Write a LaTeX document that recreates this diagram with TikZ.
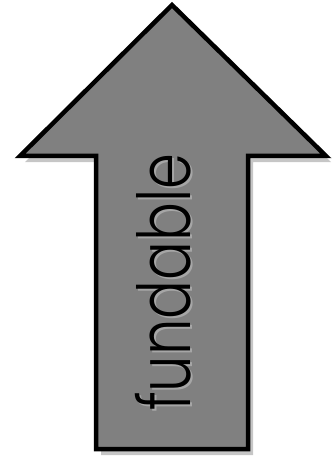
\documentclass[tikz,border=0pt]{standalone}
\usepackage{fontspec}
\setmainfont{Poppins Light}
\begin{document}
\begin{tikzpicture}[x=1pt,y=-1pt,
  arrowshape/.style={draw=black,line width=4.5pt,fill=gray,line join=miter},
  shadowshape/.style={fill=gray!45},
  labeltext/.style={font=\fontsize{73}{73}\selectfont,inner sep=0pt,rotate=90,anchor=base}]
\useasboundingbox (0,0) rectangle (332,457);
\fill[shadowshape,xshift=5pt,yshift=-6pt] (172,5) -- (326,156) -- (248,156) -- (248,449) -- (96,449) -- (96,156) -- (20,156) -- cycle;
\draw[arrowshape] (172,5) -- (326,156) -- (248,156) -- (248,449) -- (96,449) -- (96,156) -- (20,156) -- cycle;
\node[labeltext,text=gray!70] (s) at (192,284) {\scalebox{0.79}[1]{fundable}};
\node[labeltext] (t) at (190,282) {\scalebox{0.79}[1]{fundable}};
\end{tikzpicture}
\end{document}
